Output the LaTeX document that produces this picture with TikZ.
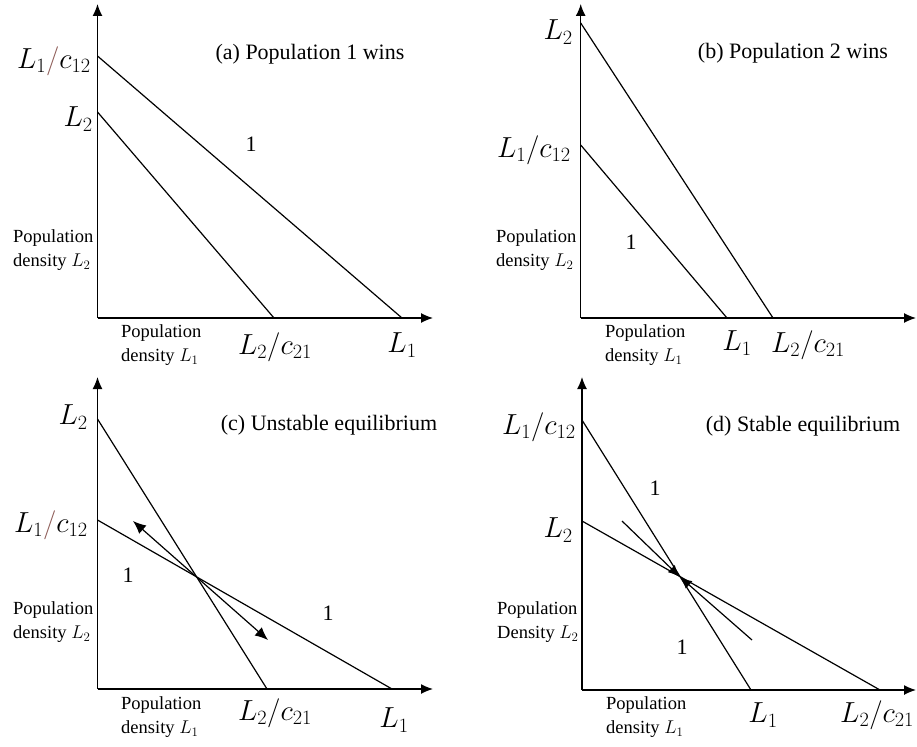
\RequirePackage{fix-cm}
\documentclass[tikz,border=0pt]{standalone}
\usepackage{fontspec}
\setmainfont{Liberation Serif}
\usetikzlibrary{arrows.meta}
\definecolor{SlashBrown}{HTML}{8C5A55}

\begin{document}
\begin{tikzpicture}[x=1pt, y=-1pt,
    axis/.style={-{Latex[length=12pt, width=10pt]}, line width=1.3pt},
    isocline/.style={line width=1.2pt},
    flow/.style={-{Latex[length=12pt, width=10pt]}, line width=1.2pt},
    both/.style={{Latex[length=13pt, width=11pt]}-{Latex[length=13pt, width=11pt]}, line width=1.2pt},
    ticklabel/.style={inner sep=0pt, font=\fontsize{29}{32}\selectfont},
    axlabel/.style={inner sep=0pt, align=left, font=\fontsize{18.5}{24}\selectfont},
    caption/.style={inner sep=0pt, font=\fontsize{22}{26}\selectfont},
    region/.style={inner sep=0pt, font=\fontsize{22}{26}\selectfont}
]
\useasboundingbox (0,0) rectangle (917,746);

% (a)
\coordinate (aO) at (97.5,318);
\coordinate (aY) at (97.5,4);
\coordinate (aX) at (433,318);
\coordinate (a1) at (97.5,56);
\coordinate (a2) at (402,318);
\coordinate (a3) at (97.5,112);
\coordinate (a4) at (274,318);
\draw[axis] (aO) -- (aY);
\draw[axis] (aO) -- (aX);
\draw[isocline] (a1) -- (a2);
\draw[isocline] (a3) -- (a4);
\node[ticklabel, anchor=east] (aK12) at (91,61) {$L_1{\color{SlashBrown}/}c_{12}$};
\node[ticklabel, anchor=east] (aL2) at (93,119) {$L_2$};
\node[ticklabel] (aK21) at (275,347) {$L_2/c_{21}$};
\node[ticklabel] (aL1) at (402,345) {$L_1$};
\node[axlabel, anchor=west] (aDy) at (13,250) {Population\\density $L_2$};
\node[axlabel, anchor=west] (aDx) at (121,345) {Population\\density $L_1$};
\node[caption] (aT) at (310,54) {(a) Population 1 wins};
\node[region] (aR) at (251,144) {1};

% (b)
\coordinate (bO) at (580.7,318);
\coordinate (bY) at (580.7,4);
\coordinate (bX) at (916,318);
\coordinate (b1) at (580.7,23);
\coordinate (b2) at (773,318);
\coordinate (b3) at (580.7,145);
\coordinate (b4) at (727,318);
\draw[axis] (bO) -- (bY);
\draw[axis] (bO) -- (bX);
\draw[isocline] (b1) -- (b2);
\draw[isocline] (b3) -- (b4);
\node[ticklabel, anchor=east] (bL2) at (573,32) {$L_2$};
\node[ticklabel, anchor=east] (bK12) at (571,150) {$L_1/c_{12}$};
\node[ticklabel] (bL1) at (737,343) {$L_1$};
\node[ticklabel] (bK21) at (808,345) {$L_2/c_{21}$};
\node[axlabel, anchor=west] (bDy) at (496,250) {Population\\density $L_2$};
\node[axlabel, anchor=west] (bDx) at (605,345) {Population\\density $L_1$};
\node[caption] (bT) at (793,53) {(b) Population 2 wins};
\node[region] (bR) at (631,242) {1};

% (c)
\coordinate (cO) at (97.5,689);
\coordinate (cY) at (97.5,377);
\coordinate (cX) at (433,689);
\coordinate (c1) at (97.5,419);
\coordinate (c2) at (267,689);
\coordinate (c3) at (97.5,520);
\coordinate (c4) at (392,689);
\coordinate (c5) at (133,521);
\coordinate (c6) at (268,640);
\draw[axis] (cO) -- (cY);
\draw[axis] (cO) -- (cX);
\draw[isocline] (c1) -- (c2);
\draw[isocline] (c3) -- (c4);
\draw[both] (c5) -- (c6);
\node[ticklabel, anchor=east] (cL2) at (88,417) {$L_2$};
\node[ticklabel, anchor=east] (cK12) at (88,525) {$L_1{\color{SlashBrown}/}c_{12}$};
\node[ticklabel] (cK21) at (275,713) {$L_2/c_{21}$};
\node[ticklabel] (cL1) at (394,720) {$L_1$};
\node[axlabel, anchor=west] (cDy) at (13,622) {Population\\density $L_2$};
\node[axlabel, anchor=west] (cDx) at (121,717) {Population\\density $L_1$};
\node[caption] (cT) at (329,425) {(c) Unstable equilibrium};
\node[region] (cR1) at (128,575) {1};
\node[region] (cR2) at (328,613) {1};

% (d)
\coordinate (dO) at (582,690);
\coordinate (dY) at (582,377);
\coordinate (dX) at (916,690);
\coordinate (d1) at (582,420);
\coordinate (d2) at (751,690);
\coordinate (d3) at (582,521);
\coordinate (d4) at (880,690);
\coordinate (d5) at (622,521);
\coordinate (d6) at (752,640);
\coordinate (dE) at (680,577);
\draw[axis] (dO) -- (dY);
\draw[axis] (dO) -- (dX);
\draw[isocline] (d1) -- (d2);
\draw[isocline] (d3) -- (d4);
\draw[flow] (d5) -- (dE);
\draw[flow] (d6) -- (dE);
\node[ticklabel, anchor=east] (dK12) at (576,427) {$L_1/c_{12}$};
\node[ticklabel, anchor=east] (dL2) at (573,530) {$L_2$};
\node[ticklabel] (dL1) at (763,715) {$L_1$};
\node[ticklabel, anchor=west] (dK21) at (840,715) {$L_2/c_{21}$};
\node[axlabel, anchor=west] (dDy) at (497,622) {Population\\Density $L_2$};
\node[axlabel, anchor=west] (dDx) at (606,717) {Population\\density $L_1$};
\node[caption] (dT) at (803,426) {(d) Stable equilibrium};
\node[region] (dR1) at (655,488) {1};
\node[region] (dR2) at (682,647) {1};
\end{tikzpicture}
\end{document}
